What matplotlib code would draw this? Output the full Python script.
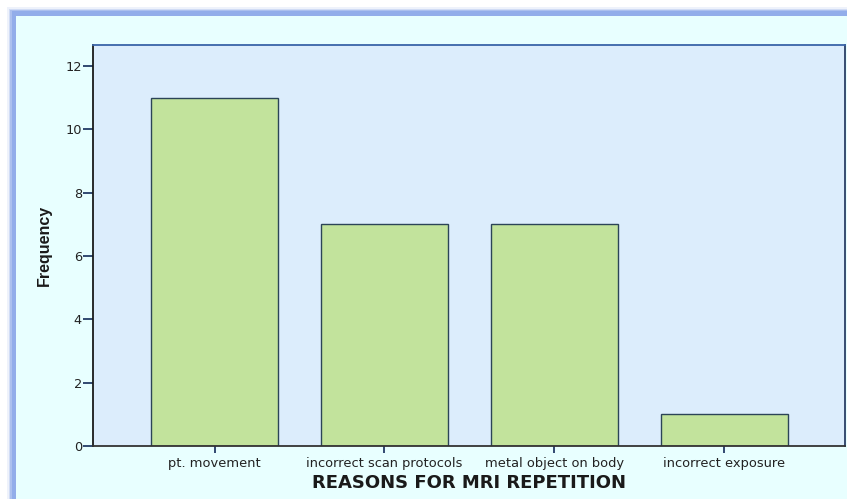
import matplotlib
matplotlib.use("Agg")
import matplotlib.pyplot as plt
from matplotlib.patches import Rectangle

reasons = ["pt. movement", "incorrect scan protocols", "metal object on body", "incorrect exposure"]
frequency = [11, 7, 7, 1]
y_ticks = [0, 2, 4, 6, 8, 10, 12]

plt.rcParams["font.family"] = ["DejaVu Sans"]

fig = plt.figure(figsize=(8.47, 4.99), dpi=100)
fig.patch.set_facecolor("white")

# framed panel behind the chart, with a soft blue edge
for i, alpha in enumerate([0.15, 0.3, 0.55, 0.85]):
    pad = (4 - i) * 1.5
    fig.patches.append(Rectangle(((13 - pad) / 847, -0.1), 2, (499 - 13 + pad) / 499 + 0.1,
                                 transform=fig.transFigure, facecolor="#8eaaea",
                                 alpha=alpha, edgecolor="none", zorder=-5))
fig.patches.append(Rectangle((16 / 847, -0.1), 2, (499 - 16) / 499 + 0.1,
                             transform=fig.transFigure, facecolor="#e8ffff",
                             edgecolor="none", zorder=-4))

ax = fig.add_axes([93 / 847, 1 - 446 / 499, 752 / 847, 401 / 499])
ax.set_zorder(5)
ax.set_facecolor("#dcedfc")

x = range(len(reasons))
ax.bar(x, frequency, width=0.75, color="#c2e39c", edgecolor="#2b4457", linewidth=1.0, zorder=2)

ax.set_xlim(-0.715, 3.71)
ax.set_ylim(0, 12.66)
ax.set_yticks(y_ticks)
ax.set_xticks(list(x))
ax.set_xticklabels(reasons, fontsize=9.4, color="#222222")
ax.tick_params(axis="y", length=7, width=1.3, color="#223a66", labelsize=9.3, labelcolor="#222222", pad=1)
ax.tick_params(axis="x", length=5, width=1.3, color="#223a66", pad=3)

ax.spines["left"].set_color("#1a1a1a")
ax.spines["bottom"].set_color("#333333")
ax.spines["top"].set_color("#3a64a8")
ax.spines["right"].set_color("#2a3f66")
for s in ax.spines.values():
    s.set_linewidth(1.3)

ax.set_xlabel("REASONS FOR MRI REPETITION", fontsize=13, fontweight="bold", color="#1a1a1a", labelpad=3)
ax.set_ylabel("Frequency", family=["Liberation Sans"], fontsize=11.5, fontweight="bold",
              color="#1a1a1a", labelpad=10)

fig.savefig("out.png", dpi=100)
